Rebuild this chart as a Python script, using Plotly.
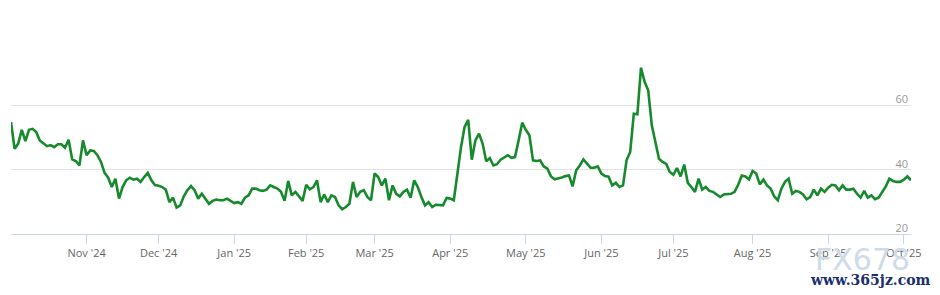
import pandas as pd
import plotly.graph_objects as go

# Trading calendar (NYSE holidays removed) - ordinal x axis
start_date = "2024-10-03"
end_date = "2025-10-03"
holidays = ["2024-11-28", "2024-12-25", "2025-01-01", "2025-01-09", "2025-01-20",
            "2025-02-17", "2025-04-18", "2025-05-26", "2025-06-19", "2025-07-04",
            "2025-09-01"]

# Index values, one per trading day
values = [
    54.8, 46.5, 48.1, 52.4, 48.9, 52.4, 52.7, 51.7, 49.1, 48.1,
    47.3, 47.6, 47.0, 47.9, 47.9, 46.8, 49.3, 43.2, 42.7, 41.3,
    49.1, 44.5, 46.0, 45.8, 44.5, 42.4, 39.0, 37.5, 34.6, 37.2,
    31.0, 34.6, 36.7, 37.5, 36.9, 37.2, 36.2, 37.7, 39.0, 36.7,
    35.2, 35.0, 34.6, 33.8, 29.9, 31.3, 28.2, 28.9, 31.7, 33.6,
    34.9, 33.6, 31.0, 32.5, 31.0, 29.4, 30.3, 30.7, 30.5, 30.5,
    31.0, 30.2, 29.6, 29.9, 29.4, 31.3, 32.0, 34.1, 34.1, 33.6,
    33.4, 33.8, 35.1, 34.6, 34.1, 33.1, 30.3, 36.5, 32.0, 33.1,
    31.5, 30.3, 35.3, 33.9, 34.6, 36.7, 29.9, 32.3, 29.9, 32.0,
    31.5, 28.9, 27.7, 28.4, 29.4, 36.2, 31.5, 33.1, 33.6, 31.5,
    30.5, 38.8, 37.7, 35.1, 37.2, 30.5, 35.1, 32.5, 31.7, 33.1,
    33.8, 31.3, 36.7, 34.6, 31.5, 28.9, 29.9, 28.4, 29.1, 28.9,
    28.9, 31.2, 31.0, 30.5, 38.5, 47.0, 53.3, 55.5, 43.1, 49.1,
    51.2, 48.1, 42.6, 43.6, 41.3, 41.7, 43.1, 43.7, 44.5, 43.7,
    43.9, 49.1, 54.6, 52.4, 50.7, 42.9, 42.7, 42.9, 41.0, 40.3,
    37.9, 37.0, 37.2, 37.6, 38.0, 38.2, 34.8, 39.8, 41.3, 43.2,
    41.9, 40.6, 40.6, 41.0, 38.8, 38.0, 37.8, 35.1, 35.9, 34.6,
    35.1, 43.0, 45.5, 57.4, 57.2, 71.7, 67.3, 64.7, 53.8, 49.1,
    43.4, 42.4, 41.8, 39.3, 38.4, 40.5, 37.9, 41.6, 35.9, 34.6,
    33.1, 37.2, 33.8, 34.6, 33.4, 33.1, 32.3, 31.5, 32.3, 32.5,
    32.5, 33.1, 35.3, 38.2, 37.9, 37.0, 39.6, 38.8, 35.4, 36.9,
    35.1, 34.1, 31.7, 30.5, 34.1, 36.2, 37.2, 32.5, 33.4, 33.1,
    32.3, 30.8, 31.5, 33.8, 32.0, 34.1, 33.1, 34.4, 35.3, 35.1,
    33.6, 35.1, 33.8, 33.8, 34.1, 32.5, 31.3, 33.4, 31.3, 32.0,
    30.8, 31.3, 33.1, 34.8, 37.2, 36.5, 36.2, 36.2, 36.9, 37.9,
    36.7,
]

y_tick_values = [20, 40, 60, 80]
y_tick_labels = ["20", "40", "60", ""]

days = pd.bdate_range(start_date, end_date)
days = days[~days.isin(pd.to_datetime(holidays))]
dates = [d.strftime("%Y-%m-%d") for d in days]
n = min(len(dates), len(values))
dates = dates[:n]
values = values[:n]

# first trading day of each month (after the first partial month)
tick_vals, tick_text = [], []
prev_month = days[0].month
for d in days[:n]:
    if d.month != prev_month:
        tick_vals.append(d.strftime("%Y-%m-%d"))
        tick_text.append(d.strftime("%b '%y"))
    prev_month = d.month

fig = go.Figure()
fig.add_trace(go.Scatter(
    x=dates, y=values, mode="lines",
    line=dict(color="#168a2c", width=2.6),
    hoverinfo="skip", showlegend=False,
))

fig.update_layout(
    width=940, height=295,
    margin=dict(l=11, r=29, t=41, b=61),
    paper_bgcolor="white", plot_bgcolor="white",
    font=dict(family="Open Sans, Arial, sans-serif", size=11, color="#666666"),
    showlegend=False,
)
fig.update_xaxes(
    type="category", range=[0, n - 1],
    tickmode="array", tickvals=tick_vals, ticktext=tick_text,
    ticklabeloverflow="allow",
    showgrid=False, showline=True, linecolor="#ccd6eb", linewidth=1,
    ticks="outside", ticklen=9, tickcolor="#ccd6eb", tickwidth=1,
    tickfont=dict(size=11, color="#666666"),
    zeroline=False,
)
fig.update_yaxes(
    range=[20, 80], side="right",
    tickmode="array", tickvals=y_tick_values, ticktext=y_tick_labels,
    ticklabelposition="inside", ticklabelshift=-6, ticklabelstandoff=0,
    ticklabeloverflow="allow",
    showgrid=True, gridcolor="#e3e3e3", gridwidth=1,
    showline=False, zeroline=False, ticks="",
    tickfont=dict(size=11, color="#999999"),
)

# watermark text seen in the lower right of the reference
fig.add_annotation(text="FX678", xref="paper", yref="paper", x=1.001, y=-0.13,
                   xanchor="right", yanchor="middle", showarrow=False,
                   font=dict(family="DejaVu Sans", size=30, color="#cfdbe9"))
fig.add_annotation(text="<b>www.365jz.com</b>", xref="paper", yref="paper", x=1.025, y=-0.236,
                   xanchor="right", yanchor="middle", showarrow=False,
                   font=dict(family="DejaVu Serif", size=14, color="#1a2f6b"))

fig.write_html("out.html")
